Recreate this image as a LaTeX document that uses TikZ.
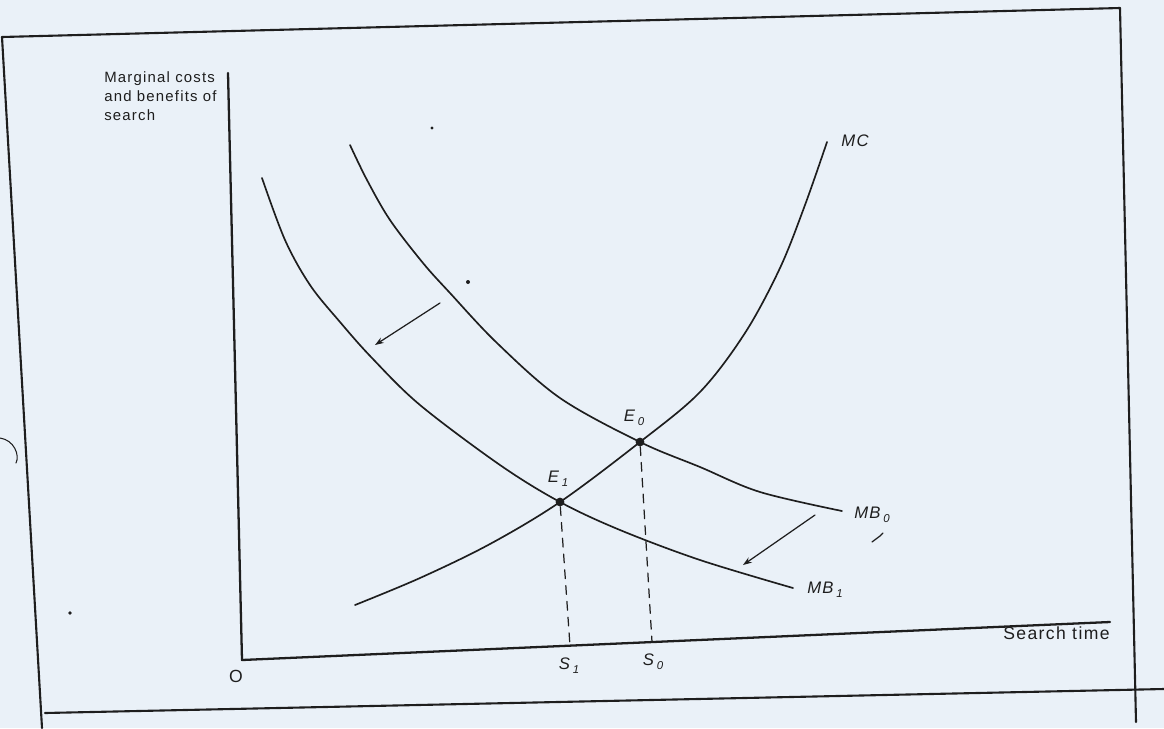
\documentclass[tikz,border=0pt]{standalone}
\usepackage{fontspec}
\setmainfont{Liberation Sans}[LetterSpace=8]
\usetikzlibrary{arrows.meta}
\definecolor{paper}{RGB}{234,241,248}
\definecolor{ink}{RGB}{30,30,30}
\newcommand{\lowsub}[1]{\,\raisebox{-0.45ex}{\fontsize{6.5}{7}\selectfont #1}}
\begin{document}
\begin{tikzpicture}[x=0.02cm,y=-0.02cm,line join=round,line cap=round,
  axisline/.style={line width=1.3pt,draw=ink},
  curve/.style={line width=0.95pt,draw=ink},
  frameline/.style={line width=1.2pt,draw=ink},
  guide/.style={line width=0.7pt,draw=ink,dash pattern=on 5pt off 4pt},
  shiftarrow/.style={line width=0.7pt,draw=ink,-{Stealth[length=5pt,width=3.5pt]}},
  eqdot/.style={circle,fill=ink,inner sep=0pt,minimum size=5pt},
  lbl/.style={font=\fontsize{8.5}{11}\selectfont,text=ink,inner sep=0pt},
  ilbl/.style={font=\fontsize{9.5}{10}\selectfont\itshape,text=ink,inner sep=0pt}]
\useasboundingbox[fill=paper] (0,0) rectangle (1164,728);
% frame
\coordinate (ftl) at (2,37);
\coordinate (ftr) at (1120,8);
\coordinate (fbr) at (1136,722);
\coordinate (fbl) at (42,728);
\coordinate (fbs) at (45,713);
\coordinate (fbe) at (1164,689);
\draw[frameline] (fbl) -- (ftl) -- (ftr) -- (fbr);
\draw[frameline] (fbs) -- (fbe);
% axes
\coordinate (o) at (242,660);
\coordinate (ytop) at (228,73);
\coordinate (xend) at (1110,622);
\draw[axisline] (ytop) -- (o) -- (xend);
% equilibria
\node[eqdot] (E0) at (640,442) {};
\node[eqdot] (E1) at (560,502) {};
\coordinate (s1) at (570,646);
\coordinate (s0) at (652,642);
\draw[guide] (E1) -- (s1);
\draw[guide] (E0) -- (s0);
% curves
\draw[curve] plot[smooth,tension=0.55] coordinates {(355,605) (420,578) (490,544) (560,502) (640,442) (700,392) (745,333) (780,268) (805,205) (827,142)};
\draw[curve] plot[smooth,tension=0.55] coordinates {(350,145) (367,180) (390,220) (423,263) (450,293) (497,343) (560,398) (640,442) (700,467) (760,492) (842,511)};
\draw[curve] plot[smooth,tension=0.55] coordinates {(262,178) (285,240) (310,285) (340,322) (372,358) (420,405) (500,465) (560,502) (620,530) (700,560) (793,588)};
% shift arrows
\coordinate (a1s) at (440,303);
\coordinate (a1e) at (375,345);
\coordinate (a2s) at (815,515);
\coordinate (a2e) at (743,565);
\draw[shiftarrow] (a1s) -- (a1e);
\draw[shiftarrow] (a2s) -- (a2e);
% labels
\node[lbl,anchor=north west,align=left] (ylab) at (104,71) {Marginal costs\\and benefits of\\search};
\node[lbl,anchor=east,font=\fontsize{10}{11}\selectfont] (xlab) at (1110,633) {Search time};
\node[lbl,font=\fontsize{10}{11}\selectfont] (olab) at (236,676) {O};
\node[ilbl] (mclab) at (855,141) {MC};
\node[ilbl] (mb0lab) at (872,515) {MB\lowsub{0}};
\node[ilbl] (mb1lab) at (825,590) {MB\lowsub{1}};
\node[ilbl] (e0lab) at (634,418) {E\lowsub{0}};
\node[ilbl] (e1lab) at (558,479) {E\lowsub{1}};
\node[ilbl] (s1lab) at (569,666) {S\lowsub{1}};
\node[ilbl] (s0lab) at (653,662) {S\lowsub{0}};
% stray marks of the scan
\draw[line width=0.6pt,draw=ink] (0,438) .. controls (14,440) and (20,455) .. (16,463);
\fill[ink] (468,282) circle (2);
\fill[ink] (432,128) circle (1.6);
\fill[ink] (70,613) circle (1.8);
\draw[line width=0.7pt,draw=ink] (872,542) -- (880,536) -- (883,533);
\end{tikzpicture}
\end{document}
